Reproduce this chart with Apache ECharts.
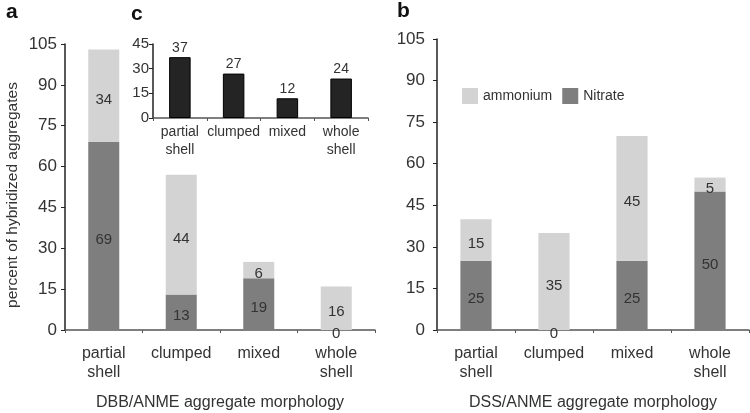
<!DOCTYPE html>
<html><head><meta charset="utf-8">
<script src="https://cdn.jsdelivr.net/npm/echarts@6/dist/echarts.min.js"></script>
<style>html,body{margin:0;padding:0;background:#fff}#c{width:750px;height:413px}</style>
</head><body><div id="c"></div>
<script>
const categories = ['partial\nshell', 'clumped', 'mixed', 'whole\nshell'];
const dbbNitrate = [69, 13, 19, 0];
const dbbAmmonium = [34, 44, 6, 16];
const dssNitrate = [25, 0, 25, 50];
const dssAmmonium = [15, 35, 45, 5];
const insetValues = [37, 27, 12, 24];
const mainTicks = [0, 15, 30, 45, 60, 75, 90, 105];
const insetTicks = [0, 15, 30, 45];

const FONT = '"Liberation Sans", Arial, Helvetica, sans-serif';
const LIGHT = '#d3d3d3', DARK = '#7e7e7e', TXT = '#333';
const chart = echarts.init(document.getElementById('c'), null, {renderer: 'canvas'});

function xAxis(grid, name, labelSize, margin, lh) {
  return {
    type: 'category', gridIndex: grid, data: categories,
    axisLine: {lineStyle: {color: '#555', width: 1.5}},
    axisTick: {show: true, length: 3, lineStyle: {color: '#555'}},
    axisLabel: {color: TXT, fontSize: labelSize, fontFamily: FONT, margin: margin, lineHeight: lh, interval: 0},
    name: name, nameLocation: 'middle', nameGap: 65,
    nameTextStyle: {color: TXT, fontSize: 16, fontFamily: FONT}
  };
}
function yAxis(grid, ticks, size, margin, extra) {
  return Object.assign({
    type: 'value', gridIndex: grid, min: ticks[0], max: ticks[ticks.length - 1],
    interval: ticks[1] - ticks[0],
    axisLine: {show: true, lineStyle: {color: '#222', width: 1.5}},
    axisTick: {show: true, length: 4, lineStyle: {color: '#222'}},
    splitLine: {show: false},
    axisLabel: {color: TXT, fontSize: size, fontFamily: FONT, margin: margin}
  }, extra || {});
}
const valLabel = {show: true, position: 'inside', offset: [0, 4], color: TXT, fontSize: 15, fontFamily: FONT};

chart.setOption({
  animation: false,
  backgroundColor: '#fff',
  textStyle: {fontFamily: FONT},
  grid: [
    {left: 65, top: 44, width: 310, height: 286, outerBoundsMode: 'none', containLabel: false},
    {left: 153, top: 44, width: 215, height: 74, outerBoundsMode: 'none', containLabel: false},
    {left: 437, top: 39, width: 312, height: 291, outerBoundsMode: 'none', containLabel: false}
  ],
  legend: {
    data: ['ammonium', 'Nitrate'], left: 462, top: 88, padding: 0, itemWidth: 16, itemHeight: 16, itemGap: 10,
    icon: 'rect', textStyle: {color: TXT, fontSize: 14, fontFamily: FONT}
  },
  xAxis: [
    xAxis(0, 'DBB/ANME aggregate morphology', 16, 14, 19),
    Object.assign(xAxis(1, '', 14, 5, 18), {name: ''}),
    xAxis(2, 'DSS/ANME aggregate morphology', 16, 14, 19)
  ],
  yAxis: [
    yAxis(0, mainTicks, 17, 8, {name: 'percent of hybridized aggregates', nameLocation: 'middle', nameGap: 44,
      nameTextStyle: {color: TXT, fontSize: 15.5, fontFamily: FONT, padding: [0, 16, 0, 0]}}),
    yAxis(1, insetTicks, 15, 4),
    yAxis(2, mainTicks, 17, 12)
  ],
  series: [
    {name: 'Nitrate', type: 'bar', xAxisIndex: 0, yAxisIndex: 0, stack: 'a', barWidth: '40%',
     data: dbbNitrate, itemStyle: {color: DARK}, label: valLabel},
    {name: 'ammonium', type: 'bar', xAxisIndex: 0, yAxisIndex: 0, stack: 'a', barWidth: '40%',
     data: dbbAmmonium, itemStyle: {color: LIGHT}, label: valLabel},
    {name: 'inset', type: 'bar', xAxisIndex: 1, yAxisIndex: 1, barWidth: '40%',
     data: insetValues, itemStyle: {color: '#242424', borderColor: '#000', borderWidth: 1},
     label: {show: true, position: 'top', distance: 2, color: TXT, fontSize: 14, fontFamily: FONT}},
    {name: 'Nitrate', type: 'bar', xAxisIndex: 2, yAxisIndex: 2, stack: 'b', barWidth: '40%',
     data: dssNitrate, itemStyle: {color: DARK}, label: valLabel},
    {name: 'ammonium', type: 'bar', xAxisIndex: 2, yAxisIndex: 2, stack: 'b', barWidth: '40%',
     data: dssAmmonium, itemStyle: {color: LIGHT}, label: valLabel}
  ],
  graphic: [
    {type: 'text', left: 6, top: 2, style: {text: 'a', font: 'bold 21px ' + FONT, fill: '#111'}},
    {type: 'text', left: 131, top: 4, style: {text: 'c', font: 'bold 21px ' + FONT, fill: '#111'}},
    {type: 'text', left: 397, top: 1, style: {text: 'b', font: 'bold 21px ' + FONT, fill: '#111'}}
  ]
});
</script></body></html>
